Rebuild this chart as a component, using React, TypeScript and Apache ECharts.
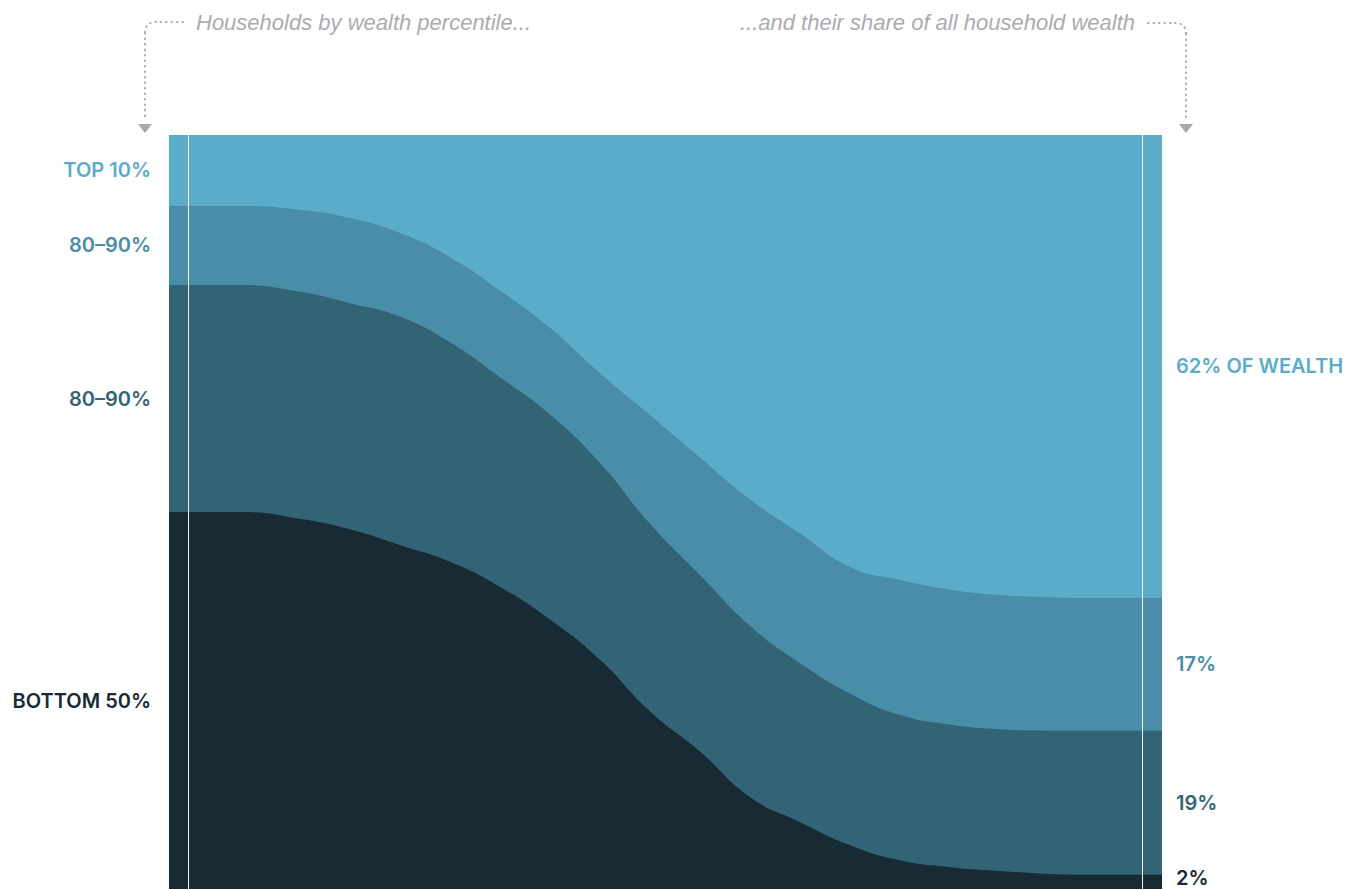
import React, { useEffect, useRef } from "react";
import * as echarts from "echarts";

// x positions along the flow (percent of plot width)
const xs = [0, 7.2, 13.2, 18.2, 23.3, 28.3, 33.3, 38.4, 43.4, 48.4, 53.5, 58.5, 63.5, 68.6, 73.6, 78.7, 83.7, 88.7, 92.7, 100];

// cumulative upper edges of each band (percent)
const bottom50Top = [50, 50, 49.1, 47.7, 45.6, 43.4, 40.1, 35.7, 30.4, 23.6, 18.2, 12.2, 8.9, 5.8, 3.8, 2.9, 2.4, 2.0, 1.9, 1.9];
const band2Top = [80.1, 80.1, 79.2, 77.7, 75.9, 72.5, 67.9, 62.9, 56.5, 48.5, 41.6, 34.9, 30.0, 25.9, 23.1, 21.8, 21.2, 21.0, 21.0, 21.0];
const band3Top = [90.6, 90.6, 90.1, 89.0, 87.0, 83.8, 79.4, 74.4, 68.4, 62.9, 57.2, 51.7, 47.2, 42.7, 41.0, 39.7, 39.0, 38.7, 38.6, 38.6];
const topEdge = [100, 100];
const topEdgeX = [0, 100];

const colors = ["#182A34", "#336475", "#4A8DA8", "#5BACC9"]; // bottom -> top
const leftLabels = ["BOTTOM 50%", "80–90%", "80–90%", "TOP 10%"];
const rightLabels = ["2%", "19%", "17%", "62% OF WEALTH"];
const dividerX = [1.9, 98.0];

const captionLeft = "Households by wealth percentile...";
const captionRight = "...and their share of all household wealth";

export default function App() {
  const ref = useRef<HTMLDivElement>(null);
  useEffect(() => {
    document.body.style.margin = "0";
    if (!ref.current) return;
    const chart = echarts.init(ref.current, null, { renderer: "svg" });
    const pts = (ys: number[], xx: number[] = xs) => ys.map((y, i) => [xx[i], y]);
    const areaSeries = (name: string, data: number[][], color: string, extra: any = {}) => ({
      name,
      type: "line",
      data,
      smooth: 0.5,
      symbol: "none",
      lineStyle: { width: 0 },
      areaStyle: { color, opacity: 1 },
      silent: true,
      ...extra,
    });
    chart.setOption({
      animation: false,
      grid: { left: 169, right: 202, top: 135, bottom: 1 },
      xAxis: { type: "value", min: 0, max: 100, show: false },
      yAxis: { type: "value", min: 0, max: 100, show: false },
      series: [
        areaSeries("top", pts(topEdge, topEdgeX), colors[3]),
        areaSeries("b3", pts(band3Top), colors[2]),
        areaSeries("b2", pts(band2Top), colors[1]),
        areaSeries("b1", pts(bottom50Top), colors[0], {
          markLine: {
            silent: true,
            symbol: "none",
            label: { show: false },
            lineStyle: { color: "rgba(255,255,255,0.92)", width: 1, type: "solid" },
            data: dividerX.map((x) => ({ xAxis: x })),
          },
        }),
      ],
    });

    const leftBounds = [0, bottom50Top[0], band2Top[0], band3Top[0], 100];
    const n = xs.length - 1;
    const rightBounds = [0, bottom50Top[n], band2Top[n], band3Top[n], 100];
    const font = "Inter, 'Liberation Sans', sans-serif";
    const graphics: any[] = [];
    for (let i = 0; i < 4; i++) {
      const yl = chart.convertToPixel({ gridIndex: 0 }, [0, (leftBounds[i] + leftBounds[i + 1]) / 2])[1];
      const yr = chart.convertToPixel({ gridIndex: 0 }, [100, (rightBounds[i] + rightBounds[i + 1]) / 2])[1];
      graphics.push({
        type: "text",
        x: 151,
        y: yl,
        style: { text: leftLabels[i], fill: colors[i], font: `600 20px ${font}`, textAlign: "right", textVerticalAlign: "middle" },
      });
      graphics.push({
        type: "text",
        x: 1176,
        y: Math.min(yr, 878),
        style: { text: rightLabels[i], fill: colors[i], font: `600 20px ${font}`, textAlign: "left", textVerticalAlign: "middle" },
      });
    }
    const grey = "#A7A7AC";
    const dot = { stroke: grey, lineWidth: 2, lineDash: [0.5, 5], lineCap: "round", fill: null };
    graphics.push(
      { type: "text", x: 196, y: 22, style: { text: captionLeft, fill: "#ABABB0", font: `italic 22px 'Liberation Sans', sans-serif`, textAlign: "left", textVerticalAlign: "middle" } },
      { type: "text", x: 1135, y: 22, style: { text: captionRight, fill: "#ABABB0", font: `italic 22px 'Liberation Sans', sans-serif`, textAlign: "right", textVerticalAlign: "middle" } },
      { type: "line", shape: { x1: 183, y1: 22, x2: 156, y2: 22 }, style: dot },
      { type: "bezierCurve", shape: { x1: 156, y1: 22, x2: 145, y2: 33, cpx1: 145, cpy1: 22 }, style: dot },
      { type: "line", shape: { x1: 145, y1: 33, x2: 145, y2: 120 }, style: dot },
      { type: "polygon", shape: { points: [[138, 124], [152, 124], [145, 133]] }, style: { fill: grey } },
      { type: "line", shape: { x1: 1148, y1: 23, x2: 1175, y2: 23 }, style: dot },
      { type: "bezierCurve", shape: { x1: 1175, y1: 23, x2: 1186, y2: 34, cpx1: 1186, cpy1: 23 }, style: dot },
      { type: "line", shape: { x1: 1186, y1: 34, x2: 1186, y2: 120 }, style: dot },
      { type: "polygon", shape: { points: [[1179, 124], [1193, 124], [1186, 133]] }, style: { fill: grey } }
    );
    chart.setOption({ graphic: graphics });
    return () => chart.dispose();
  }, []);
  return <div ref={ref} style={{ width: 1364, height: 890 }} />;
}
